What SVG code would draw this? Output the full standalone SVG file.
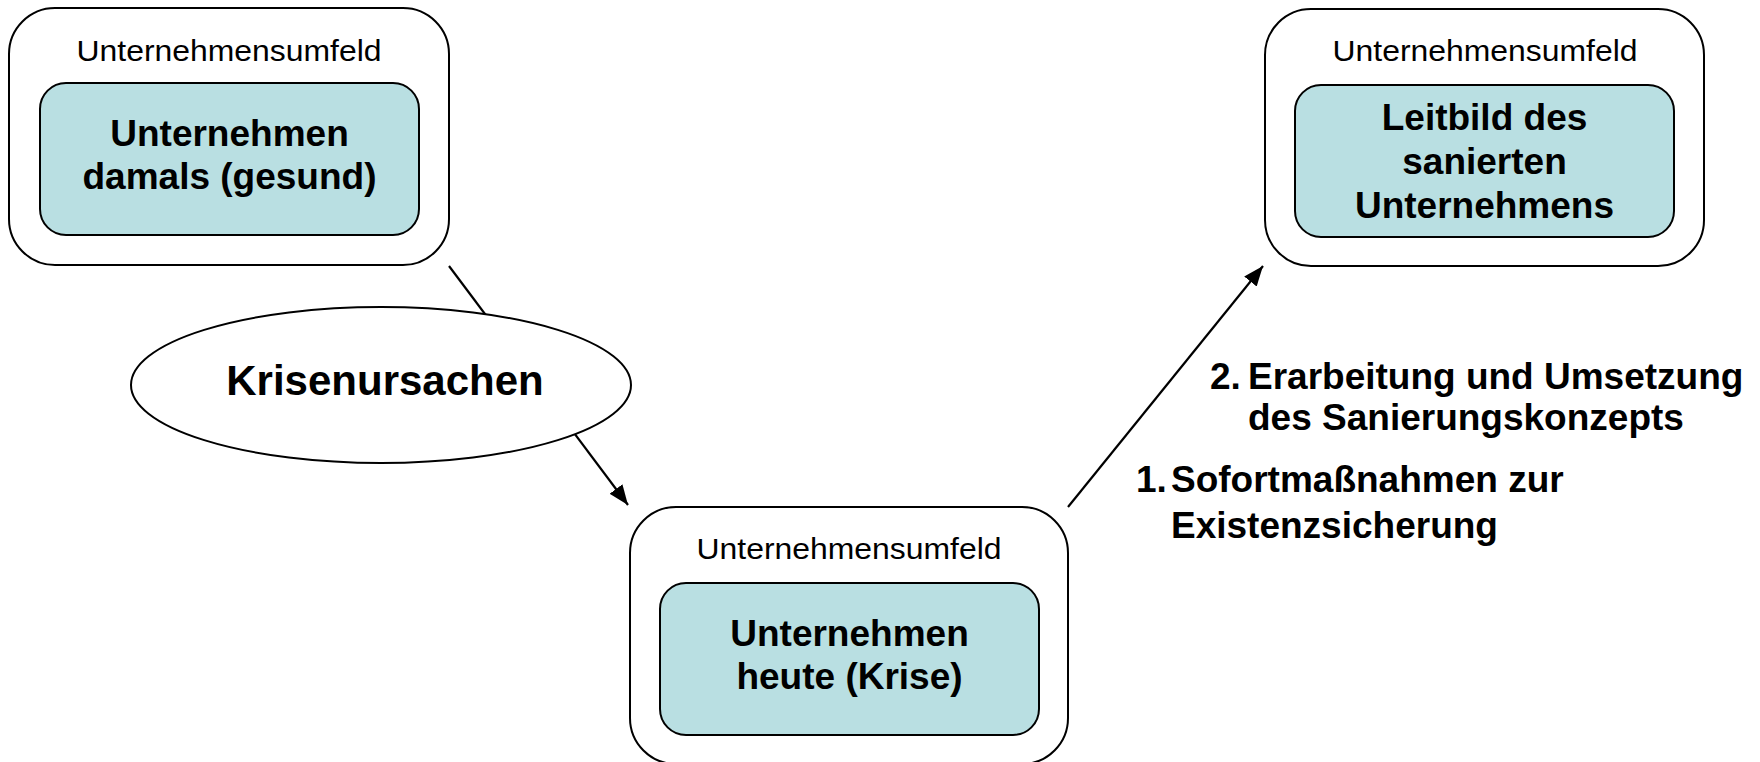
<svg xmlns="http://www.w3.org/2000/svg" width="1760" height="762" viewBox="0 0 1760 762">
<style>
.outer{fill:#fff;stroke:#000;stroke-width:2}
.inner{fill:#B9DFE2;stroke:#000;stroke-width:2}
.env{font-family:"Liberation Sans",Arial,sans-serif;font-size:29px;fill:#000;text-anchor:middle}
.main{font-family:"Liberation Sans",Arial,sans-serif;font-size:37px;font-weight:bold;fill:#000;text-anchor:middle}
.step{font-family:"Liberation Sans",Arial,sans-serif;font-size:37px;font-weight:bold;fill:#000}
.conn{fill:none;stroke:#000;stroke-width:2.2}
</style>
<defs>
<marker id="arr" markerUnits="userSpaceOnUse" markerWidth="22" markerHeight="18" refX="20" refY="8" orient="auto">
<path d="M0,0 L20,8 L0,16 z" fill="#000"/>
</marker>
</defs>
<g id="connectors">
<line class="conn" x1="449" y1="266" x2="628" y2="505" marker-end="url(#arr)"/>
<line class="conn" x1="1068" y1="507" x2="1263" y2="266" marker-end="url(#arr)"/>
</g>
<g id="node-damals">
<rect class="outer" x="9" y="8" width="440" height="257" rx="46" ry="46"/>
<text class="env" x="229" y="61" textLength="305" lengthAdjust="spacingAndGlyphs">Unternehmensumfeld</text>
<rect class="inner" x="40" y="83" width="379" height="152" rx="26" ry="26"/>
<text class="main" x="229.5" y="146">Unternehmen</text>
<text class="main" x="229.5" y="189">damals (gesund)</text>
</g>
<g id="node-krisenursachen">
<ellipse cx="381" cy="385" rx="250" ry="78" fill="#fff" stroke="#000" stroke-width="2"/>
<text x="385" y="395" font-family="Liberation Sans, Arial, sans-serif" font-size="42" font-weight="bold" text-anchor="middle">Krisenursachen</text>
</g>
<g id="node-heute">
<rect class="outer" x="630" y="507" width="438" height="257" rx="46" ry="46"/>
<text class="env" x="849" y="559" textLength="305" lengthAdjust="spacingAndGlyphs">Unternehmensumfeld</text>
<rect class="inner" x="660" y="583" width="379" height="152" rx="26" ry="26"/>
<text class="main" x="849.5" y="646">Unternehmen</text>
<text class="main" x="849.5" y="689">heute (Krise)</text>
</g>
<g id="node-leitbild">
<rect class="outer" x="1265" y="9" width="439" height="257" rx="46" ry="46"/>
<text class="env" x="1485" y="61" textLength="305" lengthAdjust="spacingAndGlyphs">Unternehmensumfeld</text>
<rect class="inner" x="1295" y="85" width="379" height="152" rx="26" ry="26"/>
<text class="main" x="1484.5" y="130">Leitbild des</text>
<text class="main" x="1484.5" y="174">sanierten</text>
<text class="main" x="1484.5" y="218">Unternehmens</text>
</g>
<g id="steps">
<text class="step" x="1210" y="389">2.</text>
<text class="step" x="1248" y="389">Erarbeitung und Umsetzung</text>
<text class="step" x="1248" y="430">des Sanierungskonzepts</text>
<text class="step" x="1136" y="492">1.</text>
<text class="step" x="1171" y="492">Sofortmaßnahmen zur</text>
<text class="step" x="1171" y="538">Existenzsicherung</text>
</g>
</svg>
